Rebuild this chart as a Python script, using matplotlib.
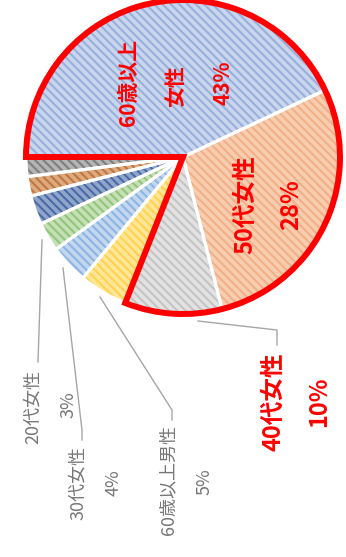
import matplotlib.pyplot as plt
from matplotlib.patches import Wedge

plt.rcParams['font.family'] = ['Noto Sans CJK JP', 'DejaVu Sans']
plt.rcParams['hatch.linewidth'] = 1.5

groups = ['60歳以上女性', '50代女性', '40代女性', '60歳以上男性', '30代女性', '20代女性', '', '', '']
shares = [43, 28, 10, 5, 4, 3, 3, 2, 2]

face = ['#c9d6ee', '#f8cdb0', '#e2e2e2', '#ffe699', '#c3d8ef', '#c5e0b4', '#8fa5cb', '#ddaa80', '#b4b4b4']
stripe = ['#98b0dc', '#f2b088', '#c4c4c4', '#ffd34d', '#8db4e2', '#93c47d', '#4a6aa5', '#c0773e', '#7f7f7f']

W, H = 346, 557
cx, cy, r = 183, 157, 157

fig = plt.figure(figsize=(W / 100, H / 100), dpi=100)
ax = fig.add_axes([0, 0, 1, 1])

# y axis runs downward, so counterclock=True turns clockwise on screen
wedges, _ = ax.pie(shares, startangle=180, counterclock=True, center=(cx, cy),
                   radius=r, colors=face)
for w, c in zip(wedges, stripe):
    w.set_hatch('\\\\\\\\')
    w.set_edgecolor(c)
    w.set_linewidth(0)

# white gaps between slices
ax.pie(shares, startangle=180, counterclock=True, center=(cx, cy), radius=r,
       colors=['none'] * len(shares),
       wedgeprops=dict(edgecolor='white', linewidth=2.2))

# red frame round the three biggest groups
big = sum(shares[:3])
ax.add_patch(Wedge((cx, cy), r, 180, 180 + 360 * big / 100, fill=False,
                   edgecolor='#ff0000', linewidth=4.3, joinstyle='miter'))

red = dict(color='#ff0000', fontsize=17, fontweight='bold', rotation=90,
           ha='center', va='center')
gray = dict(color='#777777', fontsize=13, rotation=90, ha='center', va='center')

# labels inside the pie
ax.text(128, 82, groups[0][:5], **dict(red, fontsize=15))
ax.text(176, 86, groups[0][5:], **dict(red, fontsize=15))
ax.text(223, 83, f'{shares[0]}%', **dict(red, fontsize=15))
ax.text(245, 205, groups[1], **red)
ax.text(291, 205, f'{shares[1]}%', **red)

# labels outside with leader lines
line = dict(color='#a6a6a6', linewidth=1)
ax.plot([198, 277, 277], [321, 330, 345], **line)
ax.text(273, 402, groups[2], **red)
ax.text(319, 402, f'{shares[2]}%', **red)

ax.plot([100, 172, 172], [297, 410, 420], **line)
ax.text(168, 480, groups[3], **gray)
ax.text(205, 482, f'{shares[3]}%', **gray)

ax.plot([63, 82, 82], [268, 430, 440], **line)
ax.text(78, 483, groups[4], **gray)
ax.text(114, 483, f'{shares[4]}%', **gray)

ax.plot([42, 38], [240, 362], **line)
ax.text(33, 407, groups[5], **gray)
ax.text(68, 405, f'{shares[5]}%', **gray)

ax.set_aspect('auto')
ax.set_xlim(0, W)
ax.set_ylim(H, 0)
ax.axis('off')

plt.savefig('out.png', dpi=100)
